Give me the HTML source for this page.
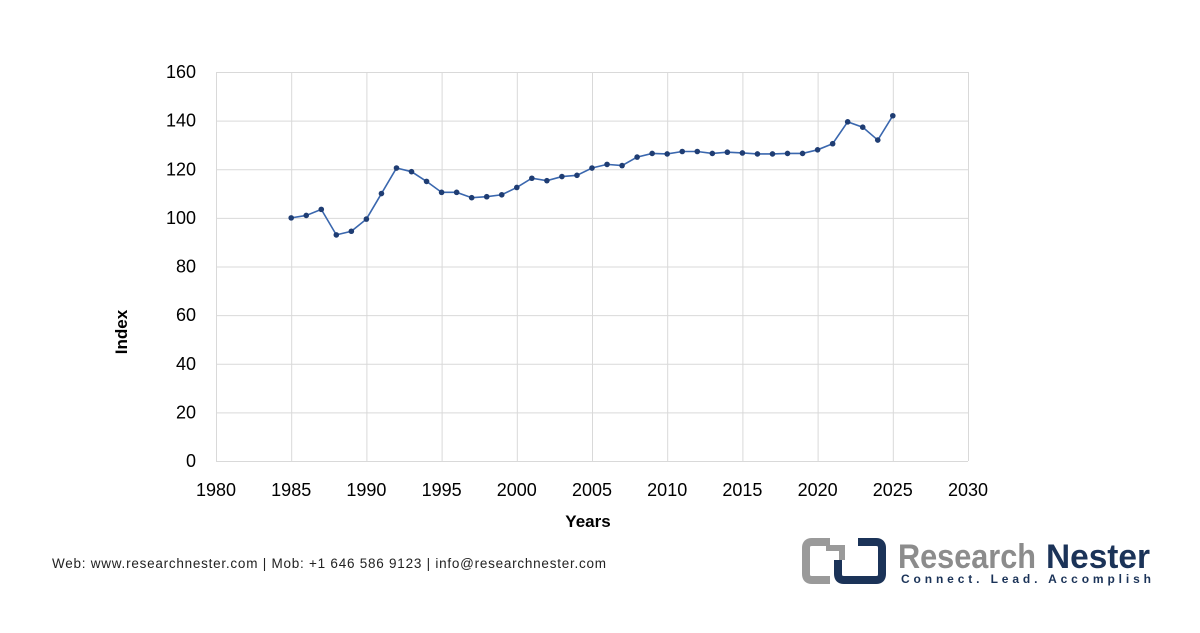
<!DOCTYPE html>
<html><head><meta charset="utf-8"><style>
body{margin:0;background:#fff;width:1200px;height:628px;overflow:hidden;font-family:"Liberation Sans",sans-serif}
</style></head><body>
<svg id="s" width="1200" height="628" xmlns="http://www.w3.org/2000/svg" font-family="Liberation Sans, sans-serif">
<g id="grid" stroke="#d9d9d9" stroke-width="1"></g>
<g id="lab" font-size="18" fill="#000"></g>
<text x="588" y="527" font-size="17" font-weight="bold" text-anchor="middle">Years</text>
<text transform="translate(127,332) rotate(-90)" font-size="17" font-weight="bold" text-anchor="middle">Index</text>
<polyline id="ln" fill="none" stroke="#3a67ae" stroke-width="1.6"/>
<g id="pts" fill="#1f3d73"></g>
<text x="52" y="568" font-size="13.5" fill="#222" textLength="554" lengthAdjust="spacing">Web: www.researchnester.com | Mob: +1 646 586 9123 | info@researchnester.com</text>
<g>
<path d="M830 542 H812 Q806 542 806 548 V574 Q806 580 812 580 H830" fill="none" stroke="#9a9a9a" stroke-width="8"/>
<path d="M838 560 V574 Q838 580 844 580 H876 Q882 580 882 574 V548 Q882 542 876 542 H858" fill="none" stroke="#1b3358" stroke-width="8"/>
<path d="M826 548 H842 V560" fill="none" stroke="#9a9a9a" stroke-width="6"/>
<text x="898" y="568" font-size="34" font-weight="bold" fill="#8c8c8c" textLength="138" lengthAdjust="spacingAndGlyphs">Research</text>
<text x="1046" y="568" font-size="34" font-weight="bold" fill="#1b3358" textLength="104" lengthAdjust="spacingAndGlyphs">Nester</text>
<text x="901" y="583" font-size="12" font-weight="bold" fill="#1b3358" textLength="250" lengthAdjust="spacing">Connect. Lead. Accomplish</text>
</g>
</svg>
<script>
var ns="http://www.w3.org/2000/svg";
function X(y){return 216+(y-1980)*15.04}
function Y(v){return 461-v*389/160}
var g=document.getElementById('grid'),l=document.getElementById('lab');
function el(p,tag,a,t){var e=document.createElementNS(ns,tag);for(var k in a)e.setAttribute(k,a[k]);if(t!=null)e.textContent=t;p.appendChild(e);return e}
for(var v=0;v<=160;v+=20){el(g,'line',{x1:216,x2:968,y1:Y(v)+.5,y2:Y(v)+.5});el(l,'text',{x:196,y:Y(v)+6,'text-anchor':'end'},v)}
for(var y=1980;y<=2030;y+=5){el(g,'line',{x1:X(y)+.5,x2:X(y)+.5,y1:72,y2:461});el(l,'text',{x:X(y),y:496,'text-anchor':'middle'},y)}
var d=[100,101,103.5,93,94.5,99.5,110,120.5,119,115,110.5,110.5,108.3,108.7,109.5,112.5,116.3,115.3,117,117.5,120.5,122,121.5,125,126.5,126.3,127.3,127.3,126.5,127,126.7,126.3,126.3,126.5,126.5,128,130.5,139.5,137.3,132,142];
var pts=[],pg=document.getElementById('pts');
d.forEach(function(v,i){var x=X(1985+i),yy=Y(v);pts.push(x+','+yy);el(pg,'circle',{cx:x,cy:yy,r:2.8})});
document.getElementById('ln').setAttribute('points',pts.join(' '));
</script>
</body></html>
